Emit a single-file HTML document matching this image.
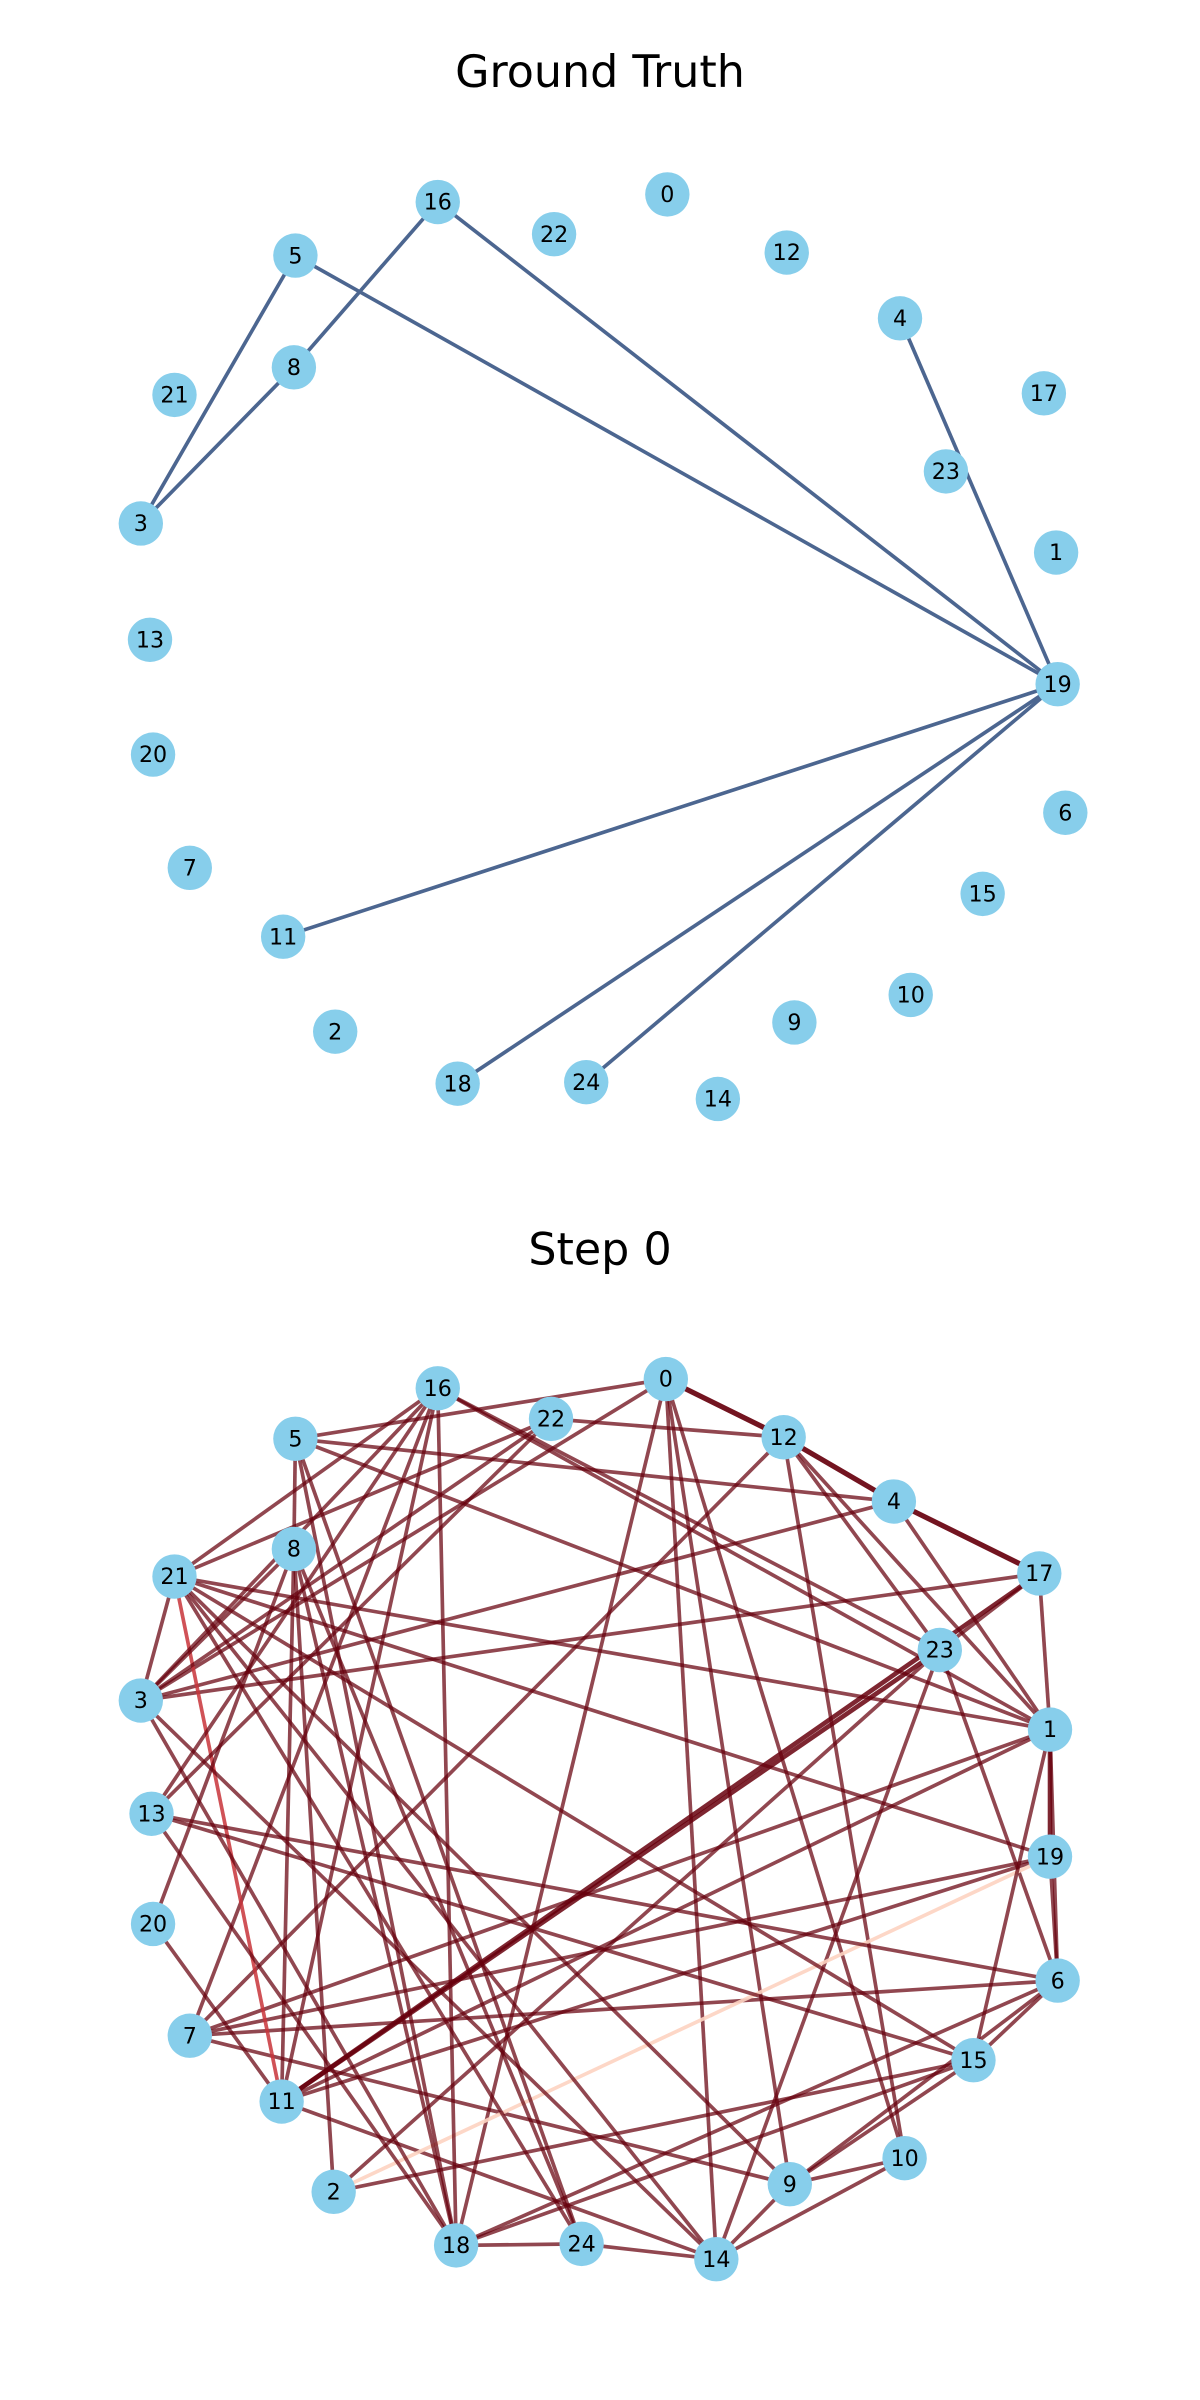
<!DOCTYPE html>
<html><head><meta charset="utf-8"><style>
html,body{margin:0;padding:0;background:#fff;}
svg{display:block;}
text{font-family:"DejaVu Sans","Liberation Sans",sans-serif;}
</style></head>
<body>
<svg id="chart" width="1200" height="2400" viewBox="0 0 784 1568" xmlns="http://www.w3.org/2000/svg">
<text x="392" y="57" font-size="29" text-anchor="middle">Ground Truth</text>
<text x="392" y="826" font-size="29" text-anchor="middle">Step 0</text>
<g id="gtEdges"></g>
<g id="gtNodes"></g>
<g id="s0Edges"></g>
<g id="s0Nodes"></g>
</svg>
<script>
const NS = "http://www.w3.org/2000/svg";
const nodeIds = [0,1,2,3,4,5,6,7,8,9,10,11,12,13,14,15,16,17,18,19,20,21,22,23,24];
const gtX = [436,690,219,92,588,193,696,124,192,519,595,185,514,98,469,642,286,682,299,691,100,114,362,618,383];
const gtY = [127,361,674,342,208,167,531,567,240,668,650,612,165,418,718,584,132,257,708,447,493,258,153,308,707];
const s0X = [435,686,218,92,584,193,691,124,192,516,591,184,512,99,468,636,286,679,298,686,100,114,360,614,380];
const s0Y = [901,1130,1432,1111,981,940,1294,1330,1012,1427,1410,1373,939,1185,1476,1346,907,1028,1467,1213,1257,1030,927,1078,1466];
const gtEdgeSrc = [5,16,8,5,16,4,19,19,19];
const gtEdgeDst = [3,8,3,19,19,19,11,18,24];
const s0EdgeSrc = [0,0,0,0,0,0,0, 12,12,12,12,12,12, 4,4,4,4, 17,17,17,17, 23,23,23,23,23, 7,7,7,7,7, 11,11,11,11,11,11, 2,2,2, 18,18,18,18,18,18, 24,24,24,24, 14,14,14,14, 9,9,9,9, 15,15,15,15, 6,6,6, 19,19, 16,16,16,16,16, 5,5, 8,8, 21,21,21, 22,22, 13, 3];
const s0EdgeDst = [5,12,3,18,9,14,10, 22,4,7,10,23,1, 17,5,3,1, 3,1,11,23, 16,6,14,2,11, 16,1,19,6,9, 1,19,14,20,8,21, 8,15,19, 16,5,8,15,6,24, 5,8,21,14, 10,9,3,21, 21,15,6,10, 13,21,1,6, 13,19,1, 1,21, 21,3,13,11,1, 1,8, 3,20, 22,3,1, 13,3, 18, 18];
const s0EdgeStrength = [1,3,1,1,1,1,1, 1,3,1,1,1,1, 3,1,1,1, 1,1,2,1, 1,1,1,1,2, 1,1,1,1,1, 1,1,1,1,1,0, 1,1,-1, 1,1,1,1,1,1, 1,1,1,1, 1,1,1,1, 1,1,1,1, 1,1,1,1, 1,1,1, 2,1, 1,1,1,1,1, 1,1, 1,1, 1,1,1, 1,1, 1, 1];

function drawEdges(g, xs, ys, src, dst, strength, base){
  for(let i=0;i<src.length;i++){
    const l=document.createElementNS(NS,'line');
    l.setAttribute('x1',xs[src[i]]);l.setAttribute('y1',ys[src[i]]);
    l.setAttribute('x2',xs[dst[i]]);l.setAttribute('y2',ys[dst[i]]);
    let col=base, w=2.4, op=strength?0.72:1;
    if(strength){
      const s=strength[i];
      if(s===3){col='#67000d';w=3.4;op=0.92;}
      else if(s===2){col='#67000d';w=3;op=0.85;}
      else if(s===0){col='#c8343a';w=2.4;op=0.85;}
      else if(s===-1){col='#fdd3c1';w=2.4;op=0.9;}
    }
    l.setAttribute('stroke',col);l.setAttribute('stroke-width',w);l.setAttribute('stroke-opacity',op);
    
    
    g.appendChild(l);
  }
}
function drawNodes(g, xs, ys, prefix){
  for(let i=0;i<nodeIds.length;i++){
    const c=document.createElementNS(NS,'circle');
    c.setAttribute('cx',xs[i]);c.setAttribute('cy',ys[i]);c.setAttribute('r',14.5);
    c.setAttribute('fill','#87ceeb');
    
    
    g.appendChild(c);
    const t=document.createElementNS(NS,'text');
    t.setAttribute('x',xs[i]);t.setAttribute('y',ys[i]+5);
    t.setAttribute('font-size','14.5');t.setAttribute('text-anchor','middle');
    t.textContent=String(nodeIds[i]);
    
    
    g.appendChild(t);
  }
}
drawEdges(document.getElementById('gtEdges'),gtX,gtY,gtEdgeSrc,gtEdgeDst,null,'#4c6690');
drawNodes(document.getElementById('gtNodes'),gtX,gtY,'gt');
drawEdges(document.getElementById('s0Edges'),s0X,s0Y,s0EdgeSrc,s0EdgeDst,s0EdgeStrength,'#67000d');
drawNodes(document.getElementById('s0Nodes'),s0X,s0Y,'step0');
</script>
</body></html>
